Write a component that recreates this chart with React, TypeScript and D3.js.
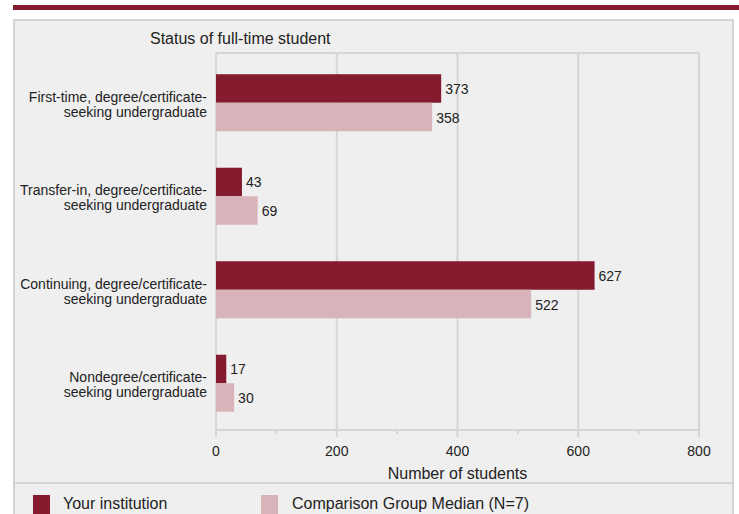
import React from 'react';
import * as d3 from 'd3';

// chart data
const categories = [
  ['First-time, degree/certificate-', 'seeking undergraduate'],
  ['Transfer-in, degree/certificate-', 'seeking undergraduate'],
  ['Continuing, degree/certificate-', 'seeking undergraduate'],
  ['Nondegree/certificate-', 'seeking undergraduate'],
];
const institutionValues = [373, 43, 627, 17];
const comparisonValues = [358, 69, 522, 30];
const seriesNames = ['Your institution', 'Comparison Group Median (N=7)'];
const majorTicks = [0, 200, 400, 600, 800];
const minorTicks = [100, 300, 500, 700];

const DARK = '#841b2e';
const LIGHT = '#d8b3b9';
const GRID = '#d5d5d5';
const TEXT = '#222';
const FONT = '"Liberation Sans", Arial, sans-serif';

const App: React.FC = () => {
  const width = 739;
  const height = 514;
  const plot = { left: 216, right: 699, top: 53, bottom: 430 };

  const x = d3.scaleLinear().domain([0, 800]).range([plot.left, plot.right]);
  const y = d3.scaleBand<number>()
    .domain(d3.range(categories.length))
    .range([56, 430])
    .paddingInner(0.39)
    .paddingOuter(0.195);
  const sub = d3.scaleBand<number>().domain([0, 1]).range([0, y.bandwidth()]);

  const series = [institutionValues, comparisonValues];
  const colors = [DARK, LIGHT];

  return (
    <svg width={width} height={height} style={{ position: 'absolute', left: 0, top: 0, display: 'block' }} fontFamily={FONT}>
      <rect x={0} y={0} width={width} height={height} fill="#fff" />
      {/* top banner */}
      <rect x={13} y={5} width={726} height={5} fill={DARK} />
      {/* panel */}
      <rect x={14} y={20} width={719} height={520} fill="#efefef" stroke="#d4d4d4" strokeWidth={2} />
      <line x1={14} x2={733} y1={483} y2={483} stroke="#d4d4d4" strokeWidth={2} />

      <text x={150} y={44} fontSize={16} fill={TEXT}>Status of full-time student</text>

      {/* grid */}
      <line x1={plot.left} x2={plot.right} y1={plot.top} y2={plot.top} stroke={GRID} strokeWidth={2} />
      {majorTicks.map(t => (
        <line key={t} x1={x(t)} x2={x(t)} y1={plot.top} y2={plot.bottom + 7} stroke={GRID} strokeWidth={2} />
      ))}
      {minorTicks.map(t => (
        <line key={t} x1={x(t)} x2={x(t)} y1={plot.bottom} y2={plot.bottom + 4} stroke={GRID} strokeWidth={2} />
      ))}
      <line x1={plot.left} x2={plot.right} y1={plot.bottom} y2={plot.bottom} stroke={GRID} strokeWidth={2} />

      {/* bars */}
      {categories.map((cat, i) => {
        const y0 = y(i) as number;
        return (
          <g key={i}>
            {series.map((vals, s) => {
              const by = y0 + (sub(s) as number);
              return (
                <g key={s}>
                  <rect x={x(0)} y={by} width={x(vals[i]) - x(0)} height={sub.bandwidth()} fill={colors[s]} />
                  <text x={x(vals[i]) + 4} y={by + sub.bandwidth() / 2 + 5.5} fontSize={14} fill={TEXT}>{vals[i]}</text>
                </g>
              );
            })}
            <text x={207} y={y0 + y.bandwidth() / 2 - 1} fontSize={14} fill={TEXT} textAnchor="end">
              <tspan x={207} dy={0}>{cat[0]}</tspan>
              <tspan x={207} dy={15}>{cat[1]}</tspan>
            </text>
          </g>
        );
      })}

      {/* x axis labels */}
      {majorTicks.map(t => (
        <text key={t} x={x(t)} y={456} fontSize={14} fill={TEXT} textAnchor="middle">{t}</text>
      ))}
      <text x={(plot.left + plot.right) / 2} y={479} fontSize={16} fill={TEXT} textAnchor="middle">Number of students</text>

      {/* legend */}
      <rect x={33} y={495} width={17} height={22} fill={DARK} />
      <text x={63} y={509} fontSize={16} fill={TEXT}>{seriesNames[0]}</text>
      <rect x={261} y={495} width={17} height={22} fill={LIGHT} />
      <text x={292} y={509} fontSize={16} fill={TEXT}>{seriesNames[1]}</text>
    </svg>
  );
};

export default App;
